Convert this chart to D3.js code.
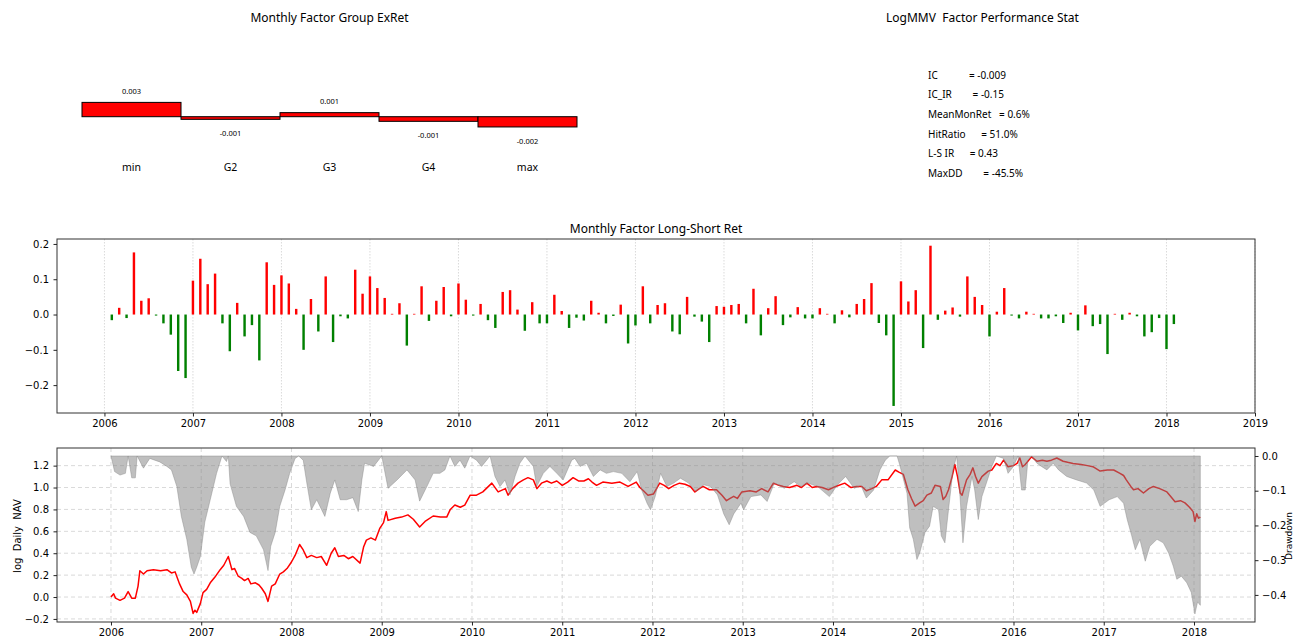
<!DOCTYPE html>
<html>
<head>
<meta charset="utf-8">
<script src="https://cdn.jsdelivr.net/npm/d3@7"></script>
<style>
body { margin: 0; background: #fff; }
svg text { white-space: pre; }
.tick text { font-family: "DejaVu Sans", sans-serif; font-size: 10px; fill: #000; }
.tick line { stroke: #222; }
</style>
</head>
<body>
<script>
// Factor report: group returns, stats, long-short bars, NAV + drawdown

// Group excess returns
var groupNames = ["min", "G2", "G3", "G4", "max"];
var groupRet = [0.0030, -0.00055, 0.00085, -0.00097, -0.00215];

// Stat panel
var statsTitle = "LogMMV  Factor Performance Stat";
var statsLines = [
    "IC            = -0.009",
    "IC_IR        = -0.15",
    "MeanMonRet   = 0.6%",
    "HitRatio      = 51.0%",
    "L-S IR      = 0.43",
    "MaxDD        = -45.5%"
];

// Monthly long-short returns, Jan 2006 .. Jan 2018 (month end)
var lsStartYear = 2006;
var lsRet = [
    -0.016, 0.019, -0.010, 0.176, 0.039, 0.046, -0.003, -0.025, -0.057, -0.160, -0.180, 0.096,
    0.158, 0.086, 0.116, -0.025, -0.104, 0.033, -0.062, -0.030, -0.130, 0.148, 0.084, 0.111,
    0.088, 0.016, -0.100, 0.044, -0.048, 0.108, -0.078, -0.005, -0.011, 0.127, 0.059, 0.108,
    0.075, 0.047, 0.002, 0.032, -0.088, 0.002, 0.080, -0.018, 0.039, 0.078, -0.005, 0.088,
    0.042, -0.003, 0.030, -0.016, -0.038, 0.064, 0.069, 0.014, -0.046, 0.035, -0.025, -0.025,
    0.056, 0.010, -0.038, -0.009, -0.017, 0.039, 0.005, -0.025, -0.004, 0.028, -0.082, -0.031,
    0.080, -0.025, 0.027, 0.032, -0.048, -0.056, 0.050, -0.006, -0.020, -0.078, 0.024, 0.022,
    0.027, 0.030, -0.025, 0.073, -0.059, 0.018, 0.052, -0.030, -0.008, 0.021, -0.011, -0.011,
    0.018, 0.002, -0.025, 0.012, -0.008, 0.030, 0.044, 0.089, -0.024, -0.059, -0.259, 0.094,
    0.037, 0.069, -0.095, 0.195, -0.015, 0.011, 0.020, -0.006, 0.108, 0.050, 0.027, -0.062,
    0.008, 0.075, -0.003, -0.011, 0.008, 0.002, -0.011, -0.011, -0.005, -0.024, 0.005, -0.045,
    0.026, -0.033, -0.027, -0.112, 0.002, -0.015, 0.005, -0.005, -0.062, -0.050, -0.010, -0.098,
    -0.027
];

// Log daily NAV (sampled), dates in decimal years
var navDates = [
    2006.00, 2006.03, 2006.05, 2006.10, 2006.15, 2006.19, 2006.23, 2006.27, 2006.30, 2006.32,
    2006.36, 2006.40, 2006.47, 2006.55, 2006.62, 2006.67, 2006.71, 2006.76, 2006.80, 2006.84,
    2006.88, 2006.91, 2006.93, 2006.95, 2006.99, 2007.02, 2007.06, 2007.10, 2007.15, 2007.21,
    2007.25, 2007.30, 2007.34, 2007.37, 2007.41, 2007.45, 2007.48, 2007.52, 2007.55, 2007.60,
    2007.64, 2007.67, 2007.71, 2007.74, 2007.78, 2007.82, 2007.87, 2007.91, 2007.95, 2008.00,
    2008.04, 2008.09, 2008.13, 2008.17, 2008.22, 2008.28, 2008.33, 2008.39, 2008.44, 2008.48,
    2008.52, 2008.58, 2008.63, 2008.68, 2008.76, 2008.80, 2008.83, 2008.88, 2008.93, 2008.98,
    2009.02, 2009.05, 2009.07, 2009.15, 2009.22, 2009.29, 2009.35, 2009.42, 2009.48, 2009.57,
    2009.65, 2009.72, 2009.76, 2009.81, 2009.87, 2009.92, 2009.98, 2010.05, 2010.12, 2010.22,
    2010.29, 2010.37, 2010.40, 2010.45, 2010.51, 2010.57, 2010.62, 2010.68, 2010.72, 2010.77,
    2010.83, 2010.88, 2010.94, 2011.00, 2011.06, 2011.12, 2011.18, 2011.24, 2011.29, 2011.33,
    2011.38, 2011.45, 2011.55, 2011.64, 2011.73, 2011.82, 2011.86, 2011.90, 2011.95, 2012.01,
    2012.08, 2012.13, 2012.18, 2012.24, 2012.30, 2012.36, 2012.42, 2012.47, 2012.52, 2012.56,
    2012.63, 2012.71, 2012.77, 2012.82, 2012.86, 2012.90, 2012.94, 2012.99, 2013.08, 2013.15,
    2013.21, 2013.28, 2013.34, 2013.40, 2013.45, 2013.52, 2013.60, 2013.65, 2013.71, 2013.77,
    2013.82, 2013.88, 2013.95, 2014.03, 2014.13, 2014.20, 2014.26, 2014.32, 2014.37, 2014.43,
    2014.48, 2014.54, 2014.61, 2014.69, 2014.73, 2014.78, 2014.83, 2014.87, 2014.91, 2014.96,
    2015.00, 2015.04, 2015.09, 2015.13, 2015.19, 2015.22, 2015.25, 2015.28, 2015.32, 2015.35,
    2015.38, 2015.41, 2015.43, 2015.48, 2015.52, 2015.55, 2015.58, 2015.61, 2015.65, 2015.72,
    2015.76, 2015.81, 2015.85, 2015.89, 2015.94, 2016.00, 2016.04, 2016.07, 2016.10, 2016.13,
    2016.20, 2016.26, 2016.32, 2016.37, 2016.42, 2016.48, 2016.55, 2016.60, 2016.66, 2016.75,
    2016.82, 2016.88, 2016.96, 2017.04, 2017.11, 2017.18, 2017.22, 2017.25, 2017.30, 2017.33,
    2017.38, 2017.44, 2017.50, 2017.55, 2017.62, 2017.70, 2017.74, 2017.79, 2017.85, 2017.90,
    2017.95, 2017.99, 2018.01, 2018.03, 2018.05, 2018.07
];
var navValues = [
    0.00, 0.03, -0.01, -0.03, -0.01, 0.05, -0.01, -0.01, 0.10, 0.24,
    0.21, 0.24, 0.25, 0.24, 0.25, 0.22, 0.23, 0.12, 0.05, 0.02,
    -0.04, -0.15, -0.12, -0.14, -0.06, 0.04, 0.07, 0.13, 0.18, 0.25,
    0.29, 0.37, 0.25, 0.26, 0.19, 0.17, 0.15, 0.17, 0.12, 0.13,
    0.11, 0.08, 0.03, -0.04, 0.10, 0.12, 0.21, 0.23, 0.26, 0.32,
    0.38, 0.48, 0.43, 0.36, 0.38, 0.36, 0.37, 0.29, 0.40, 0.45,
    0.37, 0.38, 0.35, 0.37, 0.31, 0.46, 0.52, 0.54, 0.52, 0.63,
    0.68, 0.78, 0.70, 0.72, 0.73, 0.75, 0.71, 0.64, 0.69, 0.74,
    0.73, 0.73, 0.80, 0.84, 0.82, 0.84, 0.93, 0.93, 0.96, 1.04,
    0.96, 0.99, 0.93, 0.99, 1.04, 1.07, 1.09, 1.07, 0.99, 1.04,
    1.06, 1.04, 1.06, 1.02, 1.05, 1.09, 1.06, 1.06, 1.08, 1.05,
    1.02, 1.05, 1.04, 1.05, 1.01, 1.05, 1.00, 0.97, 0.93, 0.94,
    1.04, 1.02, 0.99, 1.02, 1.04, 1.03, 1.01, 0.96, 0.99, 1.01,
    0.98, 0.98, 0.93, 0.88, 0.90, 0.92, 0.90, 0.96, 0.97, 0.96,
    0.99, 0.96, 1.04, 1.02, 1.01, 1.00, 1.02, 1.00, 1.04, 1.00,
    1.01, 1.00, 0.98, 1.01, 1.04, 1.00, 1.01, 1.01, 0.97, 0.99,
    1.01, 1.07, 1.07, 1.16, 1.14, 1.12, 0.98, 0.90, 0.83, 0.86,
    0.88, 0.93, 0.95, 1.02, 1.01, 0.89, 0.92, 0.98, 1.10, 1.21,
    1.10, 0.95, 0.93, 1.07, 1.12, 1.18, 1.10, 1.04, 1.10, 1.15,
    1.16, 1.22, 1.20, 1.25, 1.19, 1.20, 1.22, 1.27, 1.19, 1.21,
    1.28, 1.24, 1.25, 1.24, 1.25, 1.27, 1.24, 1.23, 1.22, 1.21,
    1.20, 1.19, 1.15, 1.16, 1.16, 1.13, 1.11, 1.07, 1.01, 0.98,
    0.99, 0.95, 0.99, 1.01, 0.99, 0.96, 0.92, 0.87, 0.88, 0.86,
    0.82, 0.78, 0.69, 0.76, 0.72, 0.73
];

// Drawdown (sampled), dates in decimal years
var ddDates = [
    2006.00, 2006.04, 2006.10, 2006.16, 2006.19, 2006.23, 2006.27, 2006.29, 2006.36, 2006.43,
    2006.54, 2006.62, 2006.67, 2006.73, 2006.78, 2006.84, 2006.89, 2006.92, 2006.95, 2006.99,
    2007.04, 2007.10, 2007.17, 2007.23, 2007.28, 2007.30, 2007.32, 2007.39, 2007.47, 2007.54,
    2007.61, 2007.69, 2007.74, 2007.77, 2007.82, 2007.87, 2007.93, 2007.98, 2008.04, 2008.08,
    2008.13, 2008.17, 2008.22, 2008.28, 2008.37, 2008.43, 2008.48, 2008.54, 2008.61, 2008.68,
    2008.74, 2008.78, 2008.81, 2008.91, 2009.00, 2009.07, 2009.17, 2009.28, 2009.37, 2009.42,
    2009.50, 2009.57, 2009.645, 2009.70, 2009.756, 2009.81, 2009.867, 2009.92, 2009.978, 2010.05,
    2010.107, 2010.20, 2010.255, 2010.31, 2010.366, 2010.42, 2010.477, 2010.53, 2010.587, 2010.68,
    2010.717, 2010.79, 2010.864, 2010.94, 2011.01, 2011.105, 2011.14, 2011.197, 2011.27, 2011.345,
    2011.42, 2011.49, 2011.567, 2011.66, 2011.75, 2011.83, 2011.88, 2011.94, 2011.978, 2012.03,
    2012.09, 2012.16, 2012.235, 2012.31, 2012.40, 2012.48, 2012.57, 2012.645, 2012.72, 2012.79,
    2012.85, 2012.90, 2012.98, 2013.01, 2013.09, 2013.20, 2013.27, 2013.35, 2013.46, 2013.57,
    2013.645, 2013.72, 2013.83, 2013.96, 2014.05, 2014.14, 2014.235, 2014.31, 2014.37, 2014.45,
    2014.52, 2014.58, 2014.63, 2014.71, 2014.74, 2014.82, 2014.85, 2014.89, 2014.93, 2014.96,
    2015.02, 2015.07, 2015.11, 2015.17, 2015.20, 2015.24, 2015.28, 2015.33, 2015.37, 2015.41,
    2015.44, 2015.48, 2015.54, 2015.57, 2015.61, 2015.65, 2015.70, 2015.76, 2015.81, 2015.89,
    2015.94, 2016.00, 2016.05, 2016.09, 2016.13, 2016.16, 2016.20, 2016.26, 2016.31, 2016.37,
    2016.44, 2016.50, 2016.59, 2016.70, 2016.81, 2016.89, 2016.96, 2017.06, 2017.15, 2017.22,
    2017.26, 2017.31, 2017.35, 2017.40, 2017.46, 2017.51, 2017.59, 2017.66, 2017.72, 2017.77,
    2017.81, 2017.86, 2017.92, 2017.97, 2018.01, 2018.04, 2018.07
];
var ddValues = [
    0.000, -0.045, -0.055, -0.050, 0.000, -0.063, -0.063, 0.000, -0.035, -0.007,
    -0.017, -0.030, -0.040, -0.088, -0.174, -0.240, -0.320, -0.340, -0.320, -0.290,
    -0.190, -0.126, -0.050, 0.000, -0.016, 0.000, -0.080, -0.145, -0.174, -0.220,
    -0.230, -0.270, -0.330, -0.260, -0.220, -0.145, -0.097, -0.050, -0.007, 0.000,
    -0.012, -0.078, -0.155, -0.126, -0.174, -0.107, -0.069, -0.126, -0.126, -0.120,
    -0.160, -0.069, -0.021, -0.030, 0.000, -0.093, -0.069, -0.040, -0.069, -0.130,
    -0.088, -0.050, -0.050, -0.040, 0.000, -0.030, -0.012, -0.035, 0.000, -0.012,
    -0.030, 0.000, -0.059, -0.088, -0.069, -0.112, -0.059, -0.021, 0.000, -0.030,
    -0.088, -0.050, -0.030, -0.050, -0.069, -0.012, -0.007, -0.030, -0.021, -0.059,
    -0.040, -0.050, -0.045, -0.050, -0.074, -0.045, -0.098, -0.136, -0.155, -0.117,
    -0.050, -0.088, -0.078, -0.064, -0.078, -0.102, -0.083, -0.088, -0.112, -0.167,
    -0.198, -0.167, -0.136, -0.155, -0.117, -0.112, -0.131, -0.078, -0.093, -0.074,
    -0.088, -0.078, -0.088, -0.117, -0.083, -0.059, -0.093, -0.085, -0.121, -0.098,
    -0.040, -0.012, 0.000, 0.000, -0.026, -0.107, -0.207, -0.240, -0.298, -0.280,
    -0.220, -0.202, -0.145, -0.155, -0.230, -0.250, -0.155, -0.040, 0.000, -0.126,
    -0.250, -0.145, -0.059, -0.098, -0.183, -0.117, -0.078, -0.030, 0.000, -0.007,
    -0.050, -0.030, 0.000, -0.098, -0.098, -0.012, 0.000, -0.021, -0.030, -0.040,
    -0.021, -0.040, -0.059, -0.069, -0.078, -0.098, -0.145, -0.126, -0.117, -0.136,
    -0.183, -0.230, -0.270, -0.240, -0.303, -0.260, -0.240, -0.250, -0.280, -0.317,
    -0.355, -0.346, -0.365, -0.393, -0.455, -0.420, -0.430
];

var lsYearTicks = d3.range(2006, 2020);
var navYearTicks = d3.range(2006, 2019);
var lsValueTicks = [-0.2, -0.1, 0.0, 0.1, 0.2];
var navValueTicks = [-0.2, 0.0, 0.2, 0.4, 0.6, 0.8, 1.0, 1.2];
var ddValueTicks = [-0.4, -0.3, -0.2, -0.1, 0.0];

// Setup variables
var w = 1293;
var h = 639;
var titleFont = "'Noto Sans', 'Open Sans', sans-serif";
var fmt1 = d3.format(".1f");
var fmtHyphen = function(v) { return d3.format(".3f")(v).replace("\u2212", "-"); };

var svg = d3.select("body").append("svg")
    .attr("width", w)
    .attr("height", h);

// ---------- Group excess return bars ----------
var xG = d3.scaleBand()
    .domain(groupNames)
    .range([82, 577])
    .padding(0);

var yG = d3.scaleLinear()
    .domain([-0.005, 0.005])
    .range([140.55, 92.85]);

svg.append("text")
    .attr("x", 329.5)
    .attr("y", 22)
    .attr("text-anchor", "middle")
    .style("font-family", titleFont)
    .style("font-size", "12px")
    .text("Monthly Factor Group ExRet");

var groupG = svg.append("g");

groupG.selectAll("rect")
    .data(groupRet)
    .enter()
    .append("rect")
    .attr("x", function(d, i) { return xG(groupNames[i]); })
    .attr("width", xG.bandwidth())
    .attr("y", function(d) { return yG(Math.max(0, d)); })
    .attr("height", function(d) { return Math.abs(yG(d) - yG(0)); })
    .attr("fill", "red")
    .attr("stroke", "#000")
    .attr("stroke-width", 1);

groupG.selectAll("text.val")
    .data(groupRet)
    .enter()
    .append("text")
    .attr("class", "val")
    .attr("x", function(d, i) { return xG(groupNames[i]) + xG.bandwidth() / 2; })
    .attr("y", function(d) { return d >= 0 ? yG(d) - 11.5 : yG(d) + 14; })
    .attr("dy", "0.35em")
    .attr("text-anchor", "middle")
    .style("font-family", titleFont)
    .style("font-size", "7.5px")
    .text(function(d) { return fmtHyphen(d); });

groupG.selectAll("text.cat")
    .data(groupNames)
    .enter()
    .append("text")
    .attr("class", "cat")
    .attr("x", function(d) { return xG(d) + xG.bandwidth() / 2; })
    .attr("y", 167)
    .attr("dy", "0.35em")
    .attr("text-anchor", "middle")
    .style("font-family", titleFont)
    .style("font-size", "10.5px")
    .text(function(d) { return d; });

// ---------- Stats panel ----------
svg.append("text")
    .attr("x", 982.5)
    .attr("y", 22)
    .attr("text-anchor", "middle")
    .style("font-family", titleFont)
    .style("font-size", "12px")
    .text(statsTitle);

svg.append("g").selectAll("text")
    .data(statsLines)
    .enter()
    .append("text")
    .attr("x", 928)
    .attr("y", function(d, i) { return 75 + i * 19.7; })
    .attr("dy", "0.35em")
    .style("font-family", titleFont)
    .style("font-size", "10px")
    .text(function(d) { return d; });

// ---------- Monthly long-short bars ----------
var mTop = 239, mBottom = 413, left = 57, right = 1255;

var xM = d3.scaleLinear()
    .domain([2005.464, 2019])
    .range([left, right]);

var yM = d3.scaleLinear()
    .domain([-0.279, 0.214])
    .range([mBottom, mTop]);

function monthEnd(i) {
    return lsStartYear + (i + 1) / 12;
}

svg.append("text")
    .attr("x", (left + right) / 2)
    .attr("y", 233)
    .attr("text-anchor", "middle")
    .style("font-family", titleFont)
    .style("font-size", "12px")
    .text("Monthly Factor Long-Short Ret");

// vertical grid
svg.append("g").selectAll("line")
    .data(lsYearTicks)
    .enter()
    .append("line")
    .attr("x1", function(d) { return xM(d); })
    .attr("x2", function(d) { return xM(d); })
    .attr("y1", mTop)
    .attr("y2", mBottom)
    .attr("stroke", "#d0d0d0")
    .attr("stroke-width", 0.8)
    .attr("stroke-dasharray", "1.5,1.5");

var barW = xM(2006 + 10 / 365) - xM(2006);

svg.append("g").selectAll("rect")
    .data(lsRet)
    .enter()
    .append("rect")
    .attr("x", function(d, i) { return xM(monthEnd(i)) - barW / 2; })
    .attr("width", barW)
    .attr("y", function(d) { return yM(Math.max(0, d)); })
    .attr("height", function(d) { return Math.max(0.6, Math.abs(yM(d) - yM(0))); })
    .attr("fill", function(d) { return d > 0 ? "red" : "green"; });

svg.append("rect")
    .attr("x", left)
    .attr("y", mTop)
    .attr("width", right - left)
    .attr("height", mBottom - mTop)
    .attr("fill", "none")
    .attr("stroke", "#333")
    .attr("stroke-width", 1);

svg.append("g")
    .attr("transform", "translate(0," + mBottom + ")")
    .call(d3.axisBottom(xM).tickValues(lsYearTicks).tickFormat(d3.format("d"))
        .tickSize(3.5).tickSizeOuter(0).tickPadding(3.5))
    .call(function(g) { g.select(".domain").remove(); });

svg.append("g")
    .attr("transform", "translate(" + left + ",0)")
    .call(d3.axisLeft(yM).tickValues(lsValueTicks).tickFormat(fmt1)
        .tickSize(3.5).tickSizeOuter(0).tickPadding(4.5))
    .call(function(g) { g.select(".domain").remove(); });

// ---------- NAV and drawdown ----------
var bTop = 448, bBottom = 622;

var xB = d3.scaleLinear()
    .domain([2005.402, 2018.676])
    .range([left, right]);

var yL = d3.scaleLinear()
    .domain([-0.228, 1.361])
    .range([bBottom, bTop]);

var yR = d3.scaleLinear()
    .domain([-0.478, 0.023])
    .range([bBottom, bTop]);

var gridB = svg.append("g")
    .attr("stroke", "#cfcfcf")
    .attr("stroke-width", 0.8)
    .attr("stroke-dasharray", "4,3");

gridB.selectAll("line.gx")
    .data(navYearTicks)
    .enter()
    .append("line")
    .attr("x1", function(d) { return xB(d); })
    .attr("x2", function(d) { return xB(d); })
    .attr("y1", bTop)
    .attr("y2", bBottom);

gridB.selectAll("line.gy")
    .data(navValueTicks)
    .enter()
    .append("line")
    .attr("x1", left)
    .attr("x2", right)
    .attr("y1", function(d) { return yL(d); })
    .attr("y2", function(d) { return yL(d); });

var navLine = d3.line()
    .x(function(d, i) { return xB(navDates[i]); })
    .y(function(d) { return yL(d); });

svg.append("path")
    .datum(navValues)
    .attr("d", navLine)
    .attr("fill", "none")
    .attr("stroke", "red")
    .attr("stroke-width", 1.5)
    .attr("stroke-linejoin", "round");

var ddArea = d3.area()
    .x(function(d, i) { return xB(ddDates[i]); })
    .y0(yR(0))
    .y1(function(d) { return yR(d); });

svg.append("path")
    .datum(ddValues)
    .attr("d", ddArea)
    .attr("fill", "grey")
    .attr("fill-opacity", 0.5)
    .attr("stroke", "grey")
    .attr("stroke-opacity", 0.5)
    .attr("stroke-width", 0.8);

svg.append("rect")
    .attr("x", left)
    .attr("y", bTop)
    .attr("width", right - left)
    .attr("height", bBottom - bTop)
    .attr("fill", "none")
    .attr("stroke", "#333")
    .attr("stroke-width", 1);

svg.append("g")
    .attr("transform", "translate(0," + bBottom + ")")
    .call(d3.axisBottom(xB).tickValues(navYearTicks).tickFormat(d3.format("d"))
        .tickSize(3.5).tickSizeOuter(0).tickPadding(3.5))
    .call(function(g) { g.select(".domain").remove(); });

svg.append("g")
    .attr("transform", "translate(" + left + ",0)")
    .call(d3.axisLeft(yL).tickValues(navValueTicks).tickFormat(fmt1)
        .tickSize(3.5).tickSizeOuter(0).tickPadding(4.5))
    .call(function(g) { g.select(".domain").remove(); });

svg.append("g")
    .attr("transform", "translate(" + right + ",0)")
    .call(d3.axisRight(yR).tickValues(ddValueTicks).tickFormat(fmt1)
        .tickSize(3.5).tickSizeOuter(0).tickPadding(3.5))
    .call(function(g) { g.select(".domain").remove(); });

svg.append("text")
    .attr("transform", "translate(21,536) rotate(-90)")
    .attr("text-anchor", "middle")
    .style("font-family", "'DejaVu Sans', sans-serif")
    .style("font-size", "10px")
    .text("log  Daily  NAV");

svg.append("text")
    .attr("transform", "translate(1292,536) rotate(-90)")
    .attr("text-anchor", "middle")
    .style("font-family", "'DejaVu Sans', sans-serif")
    .style("font-size", "9px")
    .text("Drawdown");
</script>
</body>
</html>
